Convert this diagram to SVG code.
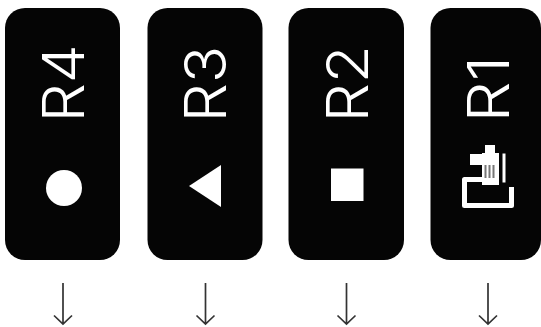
<svg xmlns="http://www.w3.org/2000/svg" width="541" height="327" viewBox="0 0 541 327">
<defs>
<style>
.card{fill:#050505}
.lbl{fill:#fff;font-family:Inter,"Liberation Sans",sans-serif;font-size:58px;font-weight:350;text-anchor:start}
.sym{fill:#fff}
.arr{fill:none;stroke:#333;stroke-width:1.7}
</style>
<path id="a" d="M0 0V41M-9 32.500L0 41L9 32.500"/>
</defs>
<rect width="541" height="327" fill="#fff"/>
<g id="r4"><rect class="card" x="5" y="8" width="115" height="252" rx="20"/><text class="lbl" transform="translate(84 122.500) rotate(-90) scale(1.07 1)">R4</text><circle class="sym" cx="64" cy="188" r="18"/></g>
<g id="r3"><rect class="card" x="147.500" y="8" width="115" height="252" rx="20"/><text class="lbl" transform="translate(226 122.500) rotate(-90) scale(1.07 1)">R3</text><polygon class="sym" points="189,186 221,165 221,207"/></g>
<g id="r2"><rect class="card" x="288.500" y="8" width="115.500" height="252" rx="20"/><text class="lbl" transform="translate(368 122.500) rotate(-90) scale(1.07 1)">R2</text><rect class="sym" x="331" y="168.500" width="32.500" height="32.500"/></g>
<g id="r1"><rect class="card" x="430.500" y="8" width="110.500" height="252" rx="20"/><text class="lbl" transform="translate(509 122.500) rotate(-90) scale(1.12 1)">R1</text>
<g id="r1-icon"><path d="M484 179.500H464.500V205.500H511.500V187" fill="none" stroke="#fff" stroke-width="5" stroke-linejoin="round"/>
<rect class="sym" x="485" y="145" width="10" height="9"/><rect class="sym" x="470" y="154" width="12" height="11"/><rect class="sym" x="482" y="153" width="17" height="32"/><rect class="sym" x="502.500" y="153.500" width="3" height="29"/>
<path d="M485.500 165V178M489.500 165V178M493.500 165V178" stroke="#777" stroke-width="2"/></g></g>
<g id="connectors" class="arr"><use href="#a" x="63" y="283"/><use href="#a" x="205.500" y="283"/><use href="#a" x="346.500" y="283"/><use href="#a" x="488" y="283"/></g>
</svg>
